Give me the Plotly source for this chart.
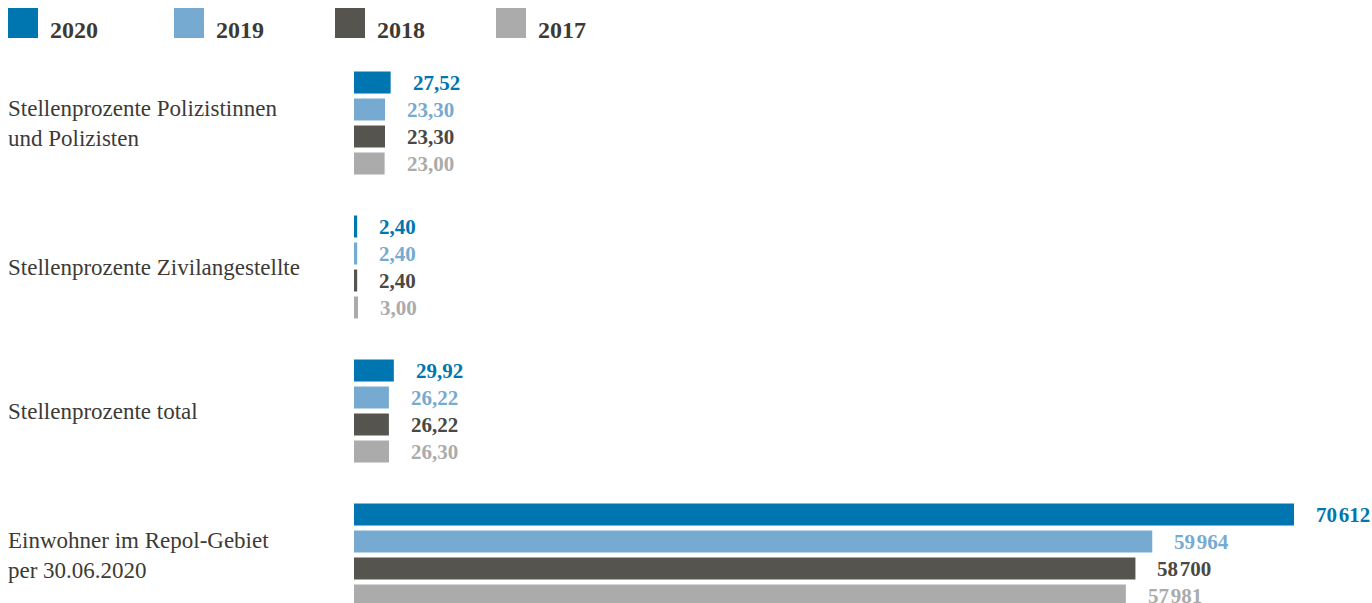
import plotly.graph_objects as go

# ---------------- data ----------------
years = ["2020", "2019", "2018", "2017"]
pct_categories = [
    "Stellenprozente Polizistinnen<br>und Polizisten",
    "Stellenprozente Zivilangestellte",
    "Stellenprozente total",
]
pop_category = "Einwohner im Repol-Gebiet<br>per 30.06.2020"

pct_2020 = [27.52, 2.40, 29.92]
pct_2019 = [23.30, 2.40, 26.22]
pct_2018 = [23.30, 2.40, 26.22]
pct_2017 = [23.00, 3.00, 26.30]
pct_values = [pct_2020, pct_2019, pct_2018, pct_2017]

pop_values = [70612, 59964, 58700, 57981]  # 2020, 2019, 2018, 2017

# ---------------- style ----------------
colors = ["#0076B1", "#77AAD1", "#56544F", "#ABABAB"]
text_colors = ["#0076B1", "#77AAD1", "#4A4843", "#ABABAB"]
label_color = "#3D3A36"
FONT = "Liberation Serif"

W, H = 1372, 603
ML, MT = 354, 51
plot_w = W - ML
px_per_pop = 940 / 70612  # pixel scale of population axis
pop_max = plot_w / px_per_pop
pct_max = pop_max / 100  # percent axis: 1 % drawn like 100 inhabitants

all_cats = pct_categories + [pop_category]
slot = 27  # pixels per bar slot

fig = go.Figure()

for i, yr in enumerate(years):
    fig.add_trace(go.Bar(
        y=pct_categories, x=pct_values[i], orientation="h",
        marker=dict(color=colors[i], line=dict(width=0)),
        xaxis="x2", yaxis="y", name=yr, showlegend=False, hoverinfo="skip",
    ))
for i, yr in enumerate(years):
    fig.add_trace(go.Bar(
        y=[pop_category], x=[pop_values[i]], orientation="h",
        marker=dict(color=colors[i], line=dict(width=0)),
        xaxis="x", yaxis="y", name=yr, showlegend=False, hoverinfo="skip",
    ))

annotations = []
# value labels
for i in range(4):
    for c, v in zip(pct_categories, pct_values[i]):
        annotations.append(dict(
            xref="x2", yref="y", x=v, y=c, xanchor="left", yanchor="middle",
            xshift=20, yshift=-(i - 1.5) * slot, showarrow=False,
            text="<b>" + f"{v:.2f}".replace(".", ",") + "</b>",
            font=dict(family=FONT, size=21, color=text_colors[i]),
        ))
    pv = pop_values[i]
    annotations.append(dict(
        xref="x", yref="y", x=pv, y=pop_category, xanchor="left", yanchor="middle",
        xshift=20, yshift=-(i - 1.5) * slot, showarrow=False,
        text="<b>" + f"{pv:,}".replace(",", "\u200a") + "</b>",
        font=dict(family=FONT, size=21, color=text_colors[i]),
    ))

# category labels
for c in all_cats:
    annotations.append(dict(
        xref="paper", yref="y", x=0, y=c, xanchor="left", yanchor="middle",
        xshift=-(ML - 8) - 2, showarrow=False, align="left", text=c,
        font=dict(family=FONT, size=23, color=label_color),
    ))

# legend
leg_x = [8, 174, 335, 496]
leg_top = 8
shapes = []
for i, yr in enumerate(years):
    shapes.append(dict(
        type="rect", xref="paper", yref="paper",
        xsizemode="pixel", ysizemode="pixel", xanchor=0, yanchor=1,
        x0=leg_x[i] - ML, x1=leg_x[i] + 30 - ML,
        y0=MT - leg_top, y1=MT - leg_top - 30,
        fillcolor=colors[i], line=dict(width=0),
    ))
    annotations.append(dict(
        xref="paper", yref="paper", x=0, y=1, xanchor="left", yanchor="middle",
        xshift=leg_x[i] + 40 - ML, yshift=MT - leg_top - 22, showarrow=False,
        text="<b>" + yr + "</b>",
        font=dict(family=FONT, size=24, color=label_color),
    ))

fig.update_layout(
    width=W, height=H,
    margin=dict(l=ML, r=0, t=MT, b=0, pad=0),
    paper_bgcolor="white", plot_bgcolor="white",
    barmode="group", bargap=0.25, bargroupgap=5 / 27,
    xaxis=dict(range=[0, pop_max], visible=False, fixedrange=True),
    xaxis2=dict(range=[0, pct_max], overlaying="x", visible=False, fixedrange=True),
    yaxis=dict(type="category", categoryorder="array", categoryarray=all_cats,
               range=[-0.5 + (H - MT) / 144, -0.5], visible=False, fixedrange=True),
    annotations=annotations, shapes=shapes,
    showlegend=False,
)

fig.write_html(
    "out.html",
    config={"displayModeBar": False},
    post_script="document.body.style.margin='0';document.body.style.overflow='hidden';",
)
